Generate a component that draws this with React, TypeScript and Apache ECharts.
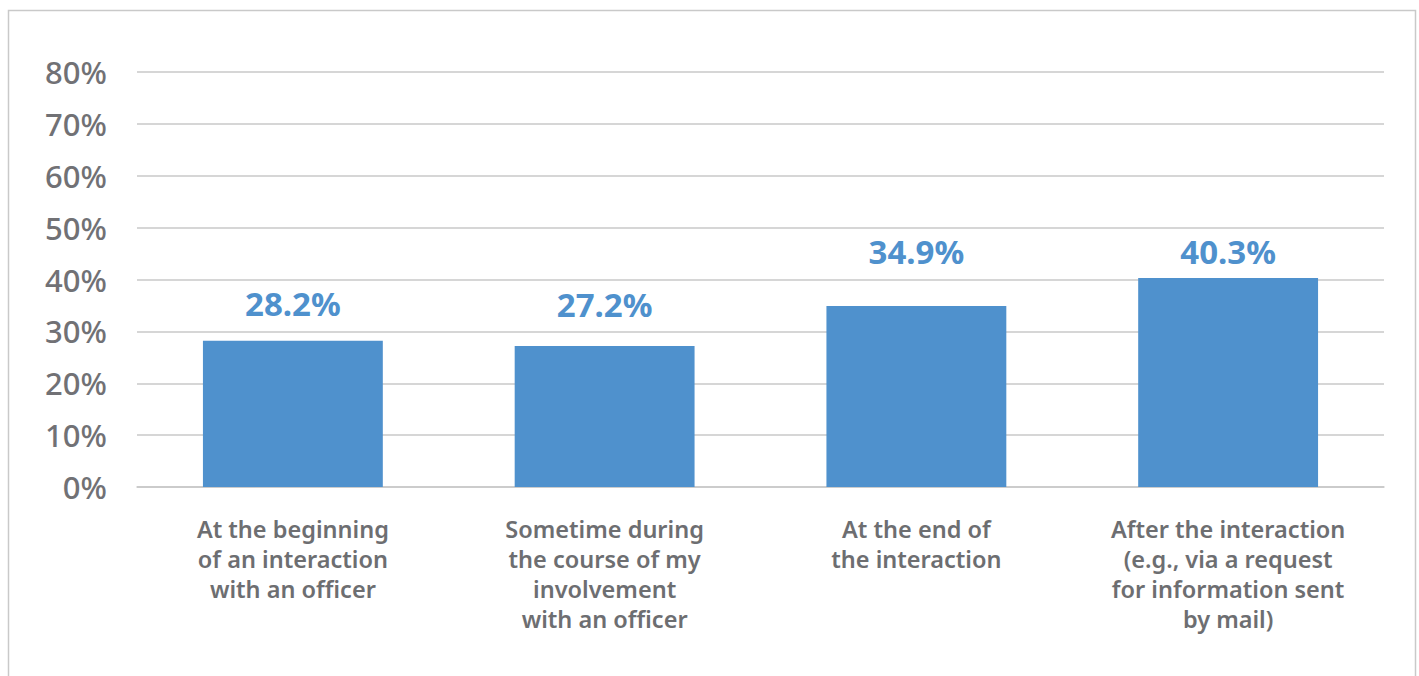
import React, { useEffect, useRef } from "react";
import * as echarts from "echarts";

const categories = [
  "At the beginning\nof an interaction\nwith an officer",
  "Sometime during\nthe course of my\ninvolvement\nwith an officer",
  "At the end of\nthe interaction",
  "After the interaction\n(e.g., via a request\nfor information sent\nby mail)",
];
const values = [28.2, 27.2, 34.9, 40.3];
const yTicks = { min: 0, max: 80, interval: 10 };

// label offsets above each bar (manually placed labels in the source)
const labelGaps = [21, 25, 38, 10];

export default function App() {
  const ref = useRef<HTMLDivElement>(null);
  useEffect(() => {
    const chart = echarts.init(ref.current!, null, { renderer: "svg" });
    chart.setOption({
      animation: false,
      backgroundColor: "#ffffff",
      graphic: [
        {
          type: "rect",
          shape: { x: 8.5, y: 10.5, width: 1407, height: 700 },
          style: { fill: "none", stroke: "#c9c9c9", lineWidth: 1.5 },
          silent: true,
        },
      ],
      grid: { left: 137, right: 35, top: 72, bottom: 189 },
      xAxis: {
        type: "category",
        data: categories,
        axisLine: { show: true, lineStyle: { color: "#c8c8c8", width: 1.5 } },
        axisTick: { show: false },
        axisLabel: {
          interval: 0,
          margin: 27,
          color: "#6d6e71",
          fontFamily: "Noto Sans",
          fontWeight: 600,
          fontSize: 23.5,
          lineHeight: 30,
          align: "center",
        },
      },
      yAxis: {
        type: "value",
        min: yTicks.min,
        max: yTicks.max,
        interval: yTicks.interval,
        axisLine: { show: false },
        axisTick: { show: false },
        splitLine: { lineStyle: { color: "#c8c8c8", width: 1.5 } },
        axisLabel: {
          formatter: "{value}%",
          margin: 30,
          color: "#717175",
          fontFamily: "Noto Sans",
          fontWeight: 500,
          fontSize: 31,
        },
      },
      series: [
        {
          type: "bar",
          data: values.map((v, i) => ({
            value: v,
            label: { distance: labelGaps[i] },
          })),
          barWidth: "57.7%",
          itemStyle: { color: "#4f91cd" },
          label: {
            show: true,
            position: "top",
            formatter: (p: any) => p.value.toFixed(1) + "%",
            color: "#4f91cd",
            fontFamily: "Noto Sans",
            fontWeight: 700,
            fontSize: 33,
          },
        },
      ],
    });
    return () => chart.dispose();
  }, []);
  return (
    <div
      ref={ref}
      style={{ position: "fixed", left: 0, top: 0, width: 1419, height: 676 }}
    />
  );
}
